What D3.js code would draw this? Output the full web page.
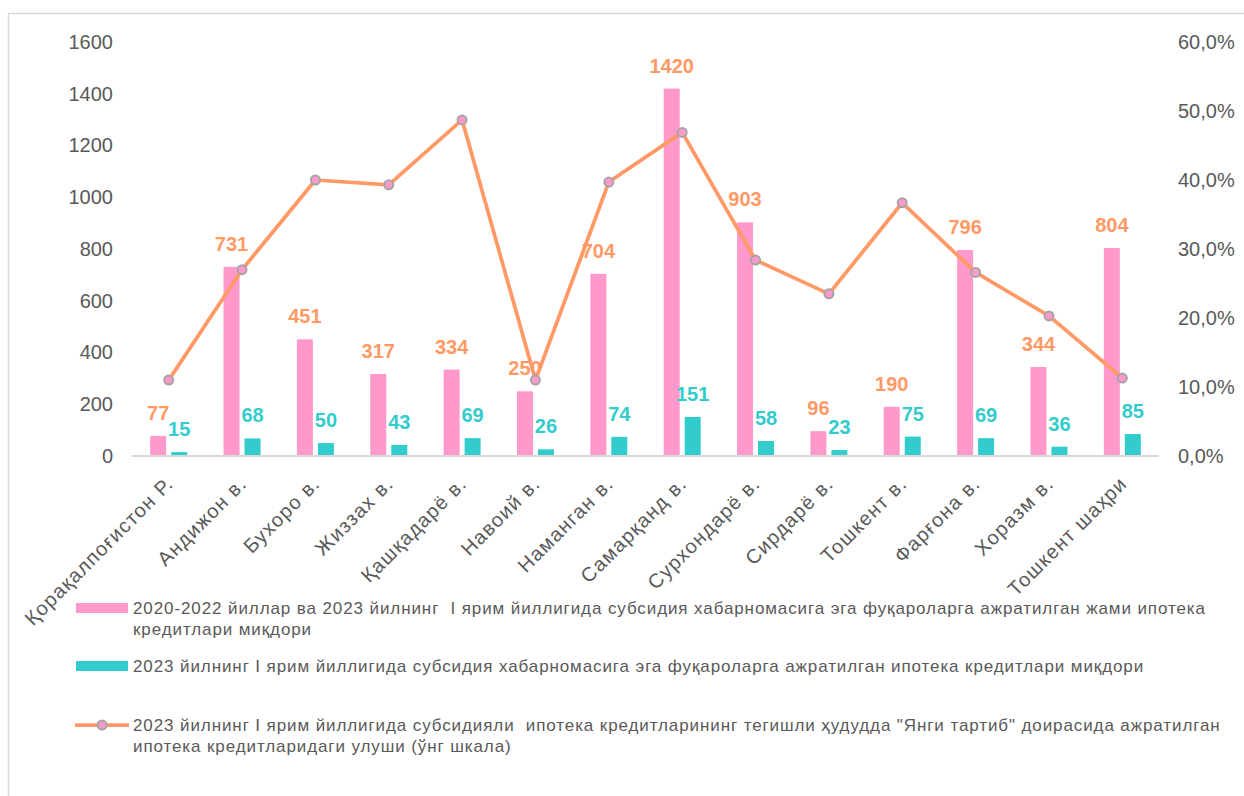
<!DOCTYPE html>
<html>
<head>
<meta charset="utf-8">
<script src="https://cdn.jsdelivr.net/npm/d3@7"></script>
<style>
  body { margin: 0; background: #fff; }
  svg { font-family: "Liberation Sans", Arial, sans-serif; }
</style>
</head>
<body>
<svg id="chart" width="1244" height="796"></svg>
<script>
var regions = ["Қорақалпоғистон Р.", "Андижон в.", "Бухоро в.", "Жиззах в.", "Қашқадарё в.", "Навоий в.",
  "Наманган в.", "Самарқанд в.", "Сурхондарё в.", "Сирдарё в.", "Тошкент в.", "Фарғона в.", "Хоразм в.", "Тошкент шаҳри"];
var totalLoans = [77, 731, 451, 317, 334, 250, 704, 1420, 903, 96, 190, 796, 344, 804];
var loans2023 = [15, 68, 50, 43, 69, 26, 74, 151, 58, 23, 75, 69, 36, 85];
var shareNewOrder = [0.110, 0.270, 0.400, 0.393, 0.487, 0.110, 0.397, 0.469, 0.284, 0.235, 0.367, 0.266, 0.203, 0.113];
var leftTicks = [0, 200, 400, 600, 800, 1000, 1200, 1400, 1600];
var rightTicks = [0, 0.1, 0.2, 0.3, 0.4, 0.5, 0.6];
var legendLabels = [
  ["2020-2022 йиллар ва 2023 йилнинг  I ярим йиллигида субсидия хабарномасига эга фуқароларга ажратилган жами ипотека", "кредитлари миқдори"],
  ["2023 йилнинг I ярим йиллигида субсидия хабарномасига эга фуқароларга ажратилган ипотека кредитлари миқдори"],
  ["2023 йилнинг I ярим йиллигида субсидияли  ипотека кредитларининг тегишли ҳудудда \"Янги тартиб\" доирасида ажратилган", "ипотека кредитларидаги улуши (ўнг шкала)"]
];

var pink = "#ff99cc", teal = "#33cccc", orange = "#ff9966", textGray = "#595959";

var svg = d3.select("#chart");
var plot = { left: 132, right: 1159, top: 42, bottom: 456 };

// chart border
svg.append("rect")
  .attr("x", 8.5).attr("y", 13.5)
  .attr("width", 1300).attr("height", 900)
  .attr("fill", "none").attr("stroke", "#d9d9d9").attr("stroke-width", 1.5);

var x = d3.scaleBand().domain(regions).range([plot.left, plot.right]).padding(0);
var inner = d3.scaleBand().domain(["total", "y2023"]).range([-18.5, 18.5]).paddingInner(5 / 21);
var yLeft = d3.scaleLinear().domain([0, 1600]).range([plot.bottom, plot.top]);
var yRight = d3.scaleLinear().domain([0, 0.6]).range([plot.bottom, plot.top]);

function center(d) { return x(d) + x.bandwidth() / 2; }

// left axis
var leftAxis = svg.append("g")
  .attr("transform", "translate(" + plot.left + ",0)")
  .call(d3.axisLeft(yLeft).tickValues(leftTicks).tickSize(0).tickPadding(19).tickFormat(d3.format("d")));
leftAxis.select(".domain").remove();
leftAxis.selectAll("text").attr("fill", textGray).style("font-size", "20px").style("font-family", "Liberation Sans, Arial, sans-serif");

// right axis
var rightAxis = svg.append("g")
  .attr("transform", "translate(" + plot.right + ",0)")
  .call(d3.axisRight(yRight).tickValues(rightTicks).tickSize(0).tickPadding(19)
    .tickFormat(function(d) { return d3.format(".1f")(d * 100).replace(".", ",") + "%"; }));
rightAxis.select(".domain").remove();
rightAxis.selectAll("text").attr("fill", textGray).style("font-size", "20px").style("font-family", "Liberation Sans, Arial, sans-serif");

// bars
var groups = svg.append("g").selectAll("g")
  .data(regions)
  .enter().append("g")
  .attr("transform", function(d) { return "translate(" + center(d) + ",0)"; });

groups.append("rect")
  .attr("x", inner("total"))
  .attr("width", inner.bandwidth())
  .attr("y", function(d, i) { return yLeft(totalLoans[i]); })
  .attr("height", function(d, i) { return plot.bottom - yLeft(totalLoans[i]); })
  .attr("fill", pink);

groups.append("rect")
  .attr("x", inner("y2023"))
  .attr("width", inner.bandwidth())
  .attr("y", function(d, i) { return yLeft(loans2023[i]); })
  .attr("height", function(d, i) { return plot.bottom - yLeft(loans2023[i]); })
  .attr("fill", teal);

// x axis line
svg.append("line")
  .attr("x1", plot.left).attr("x2", plot.right)
  .attr("y1", plot.bottom).attr("y2", plot.bottom)
  .attr("stroke", "#d9d9d9").attr("stroke-width", 2);

// x labels
svg.append("g").selectAll("text")
  .data(regions)
  .enter().append("text")
  .attr("transform", function(d) { return "translate(" + (center(d) + 1) + "," + 480 + ") rotate(-45)"; })
  .attr("text-anchor", "end")
  .attr("dy", "0.35em")
  .attr("fill", textGray)
  .style("font-size", "20px")
  .style("letter-spacing", "1.2px")
  .text(function(d) { return d; });

// line
var line = d3.line()
  .x(function(d, i) { return center(regions[i]); })
  .y(function(d) { return yRight(d); });

svg.append("path")
  .datum(shareNewOrder)
  .attr("d", line)
  .attr("fill", "none")
  .attr("stroke", orange)
  .attr("stroke-width", 3.75)
  .attr("stroke-linejoin", "round");

svg.append("g").selectAll("circle")
  .data(shareNewOrder)
  .enter().append("circle")
  .attr("cx", function(d, i) { return center(regions[i]); })
  .attr("cy", function(d) { return yRight(d); })
  .attr("r", 4.5)
  .attr("fill", pink)
  .attr("stroke", "#a5a5a5")
  .attr("stroke-width", 2);

// bar value labels
groups.append("text")
  .attr("x", inner("total") + inner.bandwidth() / 2)
  .attr("y", function(d, i) { return yLeft(totalLoans[i]) - 16; })
  .attr("text-anchor", "middle")
  .attr("fill", orange)
  .style("font-size", "20px").style("font-weight", "bold")
  .text(function(d, i) { return totalLoans[i]; });

groups.append("text")
  .attr("x", inner("y2023") + inner.bandwidth() / 2)
  .attr("y", function(d, i) { return yLeft(loans2023[i]) - 16; })
  .attr("text-anchor", "middle")
  .attr("fill", teal)
  .style("font-size", "20px").style("font-weight", "bold")
  .text(function(d, i) { return loans2023[i]; });

// legend
var legendY = [608, 666, 725];
var legend = svg.append("g");
legendLabels.forEach(function(lines, k) {
  var g = legend.append("g").attr("transform", "translate(0," + legendY[k] + ")");
  if (k < 2) {
    g.append("rect").attr("x", 76).attr("y", -5).attr("width", 52).attr("height", 10)
      .attr("fill", k === 0 ? pink : teal);
  } else {
    g.append("line").attr("x1", 75).attr("x2", 129).attr("y1", 0).attr("y2", 0)
      .attr("stroke", orange).attr("stroke-width", 3.75);
    g.append("circle").attr("cx", 102).attr("cy", 0).attr("r", 4.5)
      .attr("fill", pink).attr("stroke", "#a5a5a5").attr("stroke-width", 2);
  }
  lines.forEach(function(t, j) {
    g.append("text")
      .attr("x", 133).attr("y", 6 + j * 21)
      .attr("fill", textGray)
      .style("font-size", "17px")
      .style("letter-spacing", "0.9px")
      .style("white-space", "pre")
      .text(t);
  });
});
</script>
</body>
</html>
